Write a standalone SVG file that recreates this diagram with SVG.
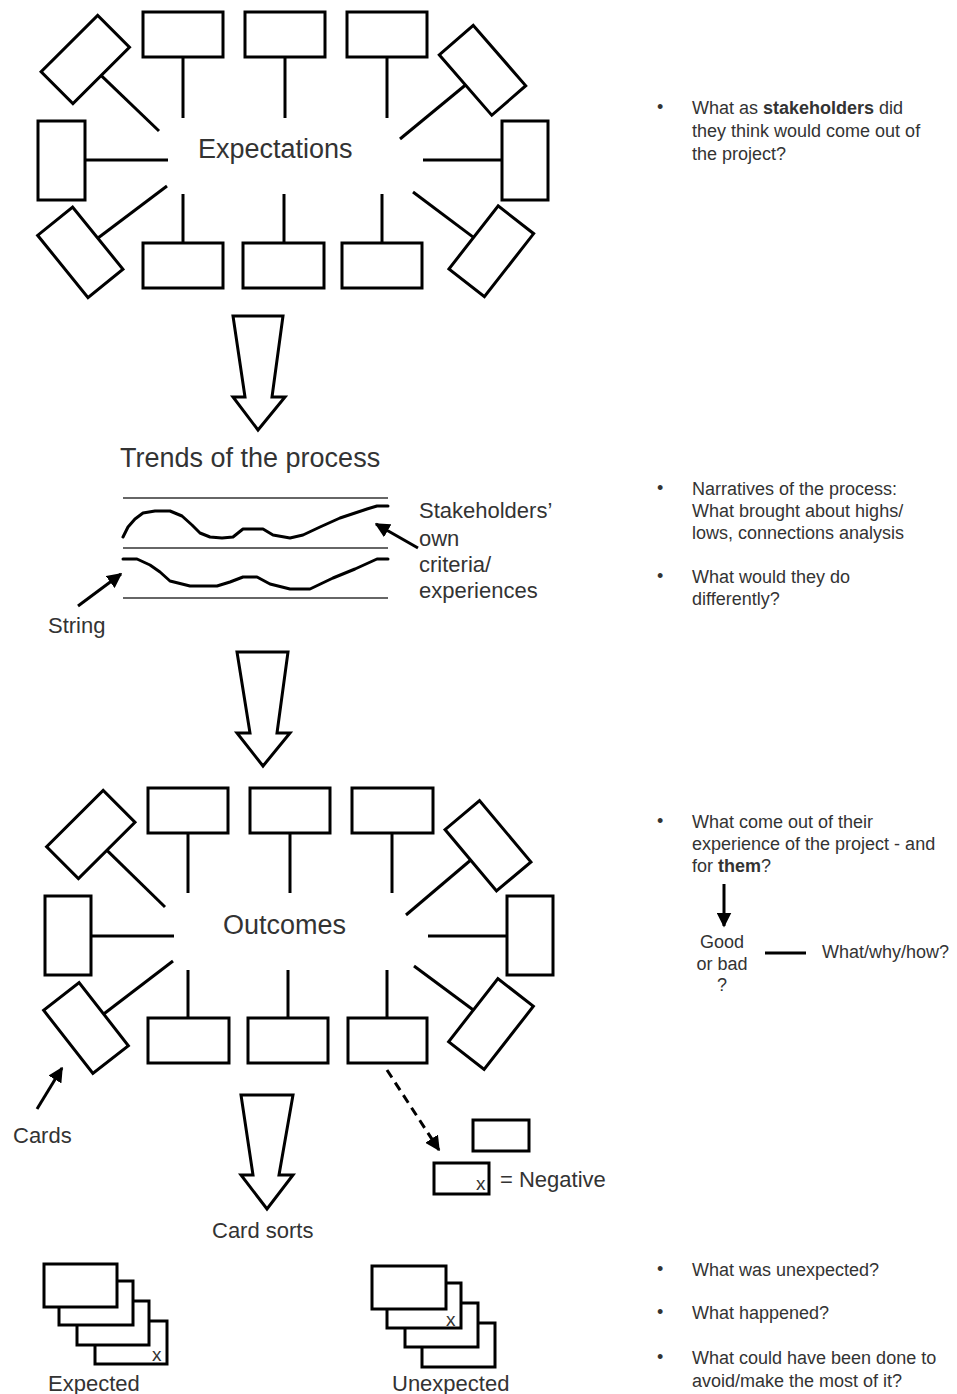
<svg xmlns="http://www.w3.org/2000/svg" width="957" height="1394" viewBox="0 0 957 1394">
<style>
.card{fill:#fff;stroke:#000;stroke-width:3}
.stem{stroke:#000;stroke-width:3;fill:none}
.big{font-family:"Liberation Sans",Arial,sans-serif;font-size:27px;fill:#333}
.mid{font-family:"Liberation Sans",Arial,sans-serif;font-size:22px;fill:#333}
.note{font-family:"Liberation Sans",Arial,sans-serif;font-size:18px;fill:#333}
.sm{font-family:"Liberation Sans",Arial,sans-serif;font-size:19px;fill:#333}
.blk{fill:#fff;stroke:#000;stroke-width:3;stroke-linejoin:miter}
.rule{stroke:#666;stroke-width:2}
.curve{fill:none;stroke:#000;stroke-width:3;stroke-linejoin:round;stroke-linecap:round}
.ptr{stroke:#000;stroke-width:3;fill:none}
</style>
<defs>
<marker id="ah" viewBox="0 0 10 10" refX="9" refY="5" markerWidth="5" markerHeight="5" orient="auto" markerUnits="strokeWidth">
<path d="M0,0 L10,5 L0,10 z" fill="#000"/>
</marker>
</defs>

<!-- Expectations cluster -->
<g id="expectations">
<text class="big" x="198" y="158">Expectations</text>
</g>
<g id="exp-cards">
<rect class="card" x="143" y="12" width="80" height="45"/>
<rect class="card" x="245" y="12" width="80" height="45"/>
<rect class="card" x="347" y="12" width="80" height="45"/>
<rect class="card" x="143" y="243" width="80" height="45"/>
<rect class="card" x="243" y="243" width="81" height="45"/>
<rect class="card" x="342" y="243" width="80" height="45"/>
<rect class="card" x="38" y="121" width="47" height="79"/>
<rect class="card" x="502" y="121" width="46" height="79"/>
<rect class="card" x="-40" y="-22.5" width="80" height="45" transform="translate(85.3,59.5) rotate(-45)"/>
<rect class="card" x="-40" y="-22.5" width="80" height="45" transform="translate(482.5,70.3) rotate(49)"/>
<rect class="card" x="-40" y="-22.5" width="80" height="45" transform="translate(80.3,252.3) rotate(51)"/>
<rect class="card" x="-40" y="-22.5" width="80" height="45" transform="translate(491.3,251.3) rotate(-52)"/>
</g>

<!-- Outcomes cluster -->
<g id="outcomes">
<text class="big" x="223" y="934">Outcomes</text>
</g>
<g id="out-cards">
<rect class="card" x="148" y="788" width="80" height="45"/>
<rect class="card" x="250" y="788" width="80" height="45"/>
<rect class="card" x="352" y="788" width="81" height="45"/>
<rect class="card" x="148" y="1018" width="81" height="45"/>
<rect class="card" x="248" y="1018" width="80" height="45"/>
<rect class="card" x="348" y="1018" width="79" height="45"/>
<rect class="card" x="45" y="896" width="46" height="79"/>
<rect class="card" x="507" y="896" width="46" height="79"/>
<rect class="card" x="-40" y="-22.5" width="80" height="45" transform="translate(90.8,834.5) rotate(-45)"/>
<rect class="card" x="-40" y="-22.5" width="80" height="45" transform="translate(488,845.8) rotate(50)"/>
<rect class="card" x="-40" y="-22.5" width="80" height="45" transform="translate(86,1028) rotate(52)"/>
<rect class="card" x="-40" y="-22.5" width="80" height="45" transform="translate(491,1024) rotate(-52)"/>
</g>

<!-- Trends -->
<g id="trends">
<text class="big" x="120" y="467">Trends of the process</text>
<line class="rule" x1="123" y1="498" x2="388" y2="498"/>
<line class="rule" x1="123" y1="548" x2="388" y2="548"/>
<line class="rule" x1="123" y1="598" x2="388" y2="598"/>
<polyline class="curve" points="123,537 128,527 135,519 143,513 155,511 170,511 182,516 192,525 200,533 210,537 222,538 233,537 243,529 263,529 273,535 290,538 303,535 320,527 340,518 355,513 367,509 377,506 388,506"/>
<polyline class="curve" points="123,559 137,559 150,565 160,572 170,581 190,586 217,586 230,582 243,577 257,577 270,584 290,589 310,589 333,578 355,569 377,559 388,559"/>
</g>
<g id="stakeholders-label">
<text class="mid" x="419" y="518">Stakeholders’</text>
<text class="mid" x="419" y="546">own</text>
<text class="mid" x="419" y="572">criteria/</text>
<text class="mid" x="419" y="598">experiences</text>
</g>
<g id="string-label"><text class="mid" x="48" y="633">String</text></g>
<g id="cards-label"><text class="mid" x="13" y="1143">Cards</text></g>
<g id="cardsorts-label"><text class="mid" x="212" y="1238">Card sorts</text></g>

<!-- Negative legend -->
<g id="negative">
<rect class="card" x="473" y="1120" width="56" height="31"/>
<rect class="card" x="434" y="1163" width="55" height="31"/>
<text class="sm" x="476" y="1190">x</text>
<text class="mid" x="500" y="1187">= Negative</text>
</g>

<!-- Expected stack -->
<g id="expected">
<rect class="card" x="95" y="1321" width="72" height="43"/>
<rect class="card" x="77" y="1301" width="72" height="44"/>
<rect class="card" x="59" y="1281" width="74" height="44"/>
<rect class="card" x="44" y="1264" width="73" height="43"/>
<text class="sm" x="152" y="1361">x</text>
<text class="mid" x="48" y="1391">Expected</text>
</g>

<!-- Unexpected stack -->
<g id="unexpected">
<rect class="card" x="422" y="1323" width="73" height="44"/>
<rect class="card" x="405" y="1303" width="73" height="44"/>
<rect class="card" x="387" y="1283" width="74" height="45"/>
<rect class="card" x="372" y="1266" width="74" height="43"/>
<text class="sm" x="446" y="1326">x</text>
<text class="mid" x="392" y="1391">Unexpected</text>
</g>

<!-- Right notes -->
<g id="note1">
<text class="note" x="657" y="113">•</text>
<text class="note" x="692" y="114">What as <tspan font-weight="bold">stakeholders</tspan> did</text>
<text class="note" x="692" y="137">they think would come out of</text>
<text class="note" x="692" y="160">the project?</text>
</g>
<g id="note2">
<text class="note" x="657" y="494">•</text>
<text class="note" x="692" y="495">Narratives of the process:</text>
<text class="note" x="692" y="517">What brought about highs/</text>
<text class="note" x="692" y="539">lows, connections analysis</text>
<text class="note" x="657" y="582">•</text>
<text class="note" x="692" y="583">What would they do</text>
<text class="note" x="692" y="605">differently?</text>
</g>
<g id="note3">
<text class="note" x="657" y="827">•</text>
<text class="note" x="692" y="828">What come out of their</text>
<text class="note" x="692" y="850">experience of the project - and</text>
<text class="note" x="692" y="872">for <tspan font-weight="bold">them</tspan>?</text>
</g>
<g id="goodbad">
<text class="note" x="722" y="948" text-anchor="middle">Good</text>
<text class="note" x="722" y="970" text-anchor="middle">or bad</text>
<text class="note" x="722" y="991" text-anchor="middle">?</text>
</g>
<g id="whatwhyhow"><text class="note" x="822" y="958">What/why/how?</text></g>
<g id="note4">
<text class="note" x="657" y="1275">•</text>
<text class="note" x="692" y="1276">What was unexpected?</text>
<text class="note" x="657" y="1318">•</text>
<text class="note" x="692" y="1319">What happened?</text>
<text class="note" x="657" y="1363">•</text>
<text class="note" x="692" y="1364">What could have been done to</text>
<text class="note" x="692" y="1387">avoid/make the most of it?</text>
</g>

<!-- Connectors -->
<g id="connectors">
<line class="stem" x1="183" y1="57" x2="183" y2="118"/>
<line class="stem" x1="285" y1="57" x2="285" y2="118"/>
<line class="stem" x1="387" y1="57" x2="387" y2="118"/>
<line class="stem" x1="183" y1="194" x2="183" y2="243"/>
<line class="stem" x1="284" y1="194" x2="284" y2="243"/>
<line class="stem" x1="382" y1="194" x2="382" y2="243"/>
<line class="stem" x1="85" y1="160" x2="168" y2="160"/>
<line class="stem" x1="423" y1="160" x2="502" y2="160"/>
<line class="stem" x1="101" y1="75.4" x2="159" y2="131"/>
<line class="stem" x1="465.5" y1="85" x2="400" y2="139"/>
<line class="stem" x1="98" y1="238" x2="167" y2="186"/>
<line class="stem" x1="473.5" y1="237.4" x2="413" y2="192"/>
<line class="stem" x1="188" y1="833" x2="188" y2="893"/>
<line class="stem" x1="290" y1="833" x2="290" y2="893"/>
<line class="stem" x1="392" y1="833" x2="392" y2="893"/>
<line class="stem" x1="188" y1="970" x2="188" y2="1018"/>
<line class="stem" x1="288" y1="970" x2="288" y2="1018"/>
<line class="stem" x1="387" y1="970" x2="387" y2="1018"/>
<line class="stem" x1="91" y1="936" x2="174" y2="936"/>
<line class="stem" x1="428" y1="936" x2="507" y2="936"/>
<line class="stem" x1="107" y1="850.4" x2="165" y2="907"/>
<line class="stem" x1="470.8" y1="860" x2="406" y2="915"/>
<line class="stem" x1="103.7" y1="1014" x2="173" y2="961"/>
<line class="stem" x1="473.3" y1="1010" x2="414" y2="966"/>
<polygon class="blk" points="233,316 283,316 272,397 285,397 258,430 233,397 245,397"/>
<polygon class="blk" points="237,652 288,652 277,733 290,733 263,766 237,733 250,733"/>
<polygon class="blk" points="241,1095 293,1095 279,1175 293,1175 267,1209 241,1175 253,1175"/>
<line class="ptr" x1="418" y1="548" x2="376" y2="524" marker-end="url(#ah)"/>
<line class="ptr" x1="78" y1="606" x2="121" y2="574" marker-end="url(#ah)"/>
<line class="ptr" x1="37" y1="1109" x2="62" y2="1068" marker-end="url(#ah)"/>
<line class="ptr" x1="387" y1="1070" x2="439" y2="1150" stroke-dasharray="9,6" marker-end="url(#ah)"/>
<line class="ptr" x1="724" y1="884" x2="724" y2="926" marker-end="url(#ah)"/>
<line class="ptr" x1="765" y1="953" x2="806" y2="953"/>
</g>
</svg>
